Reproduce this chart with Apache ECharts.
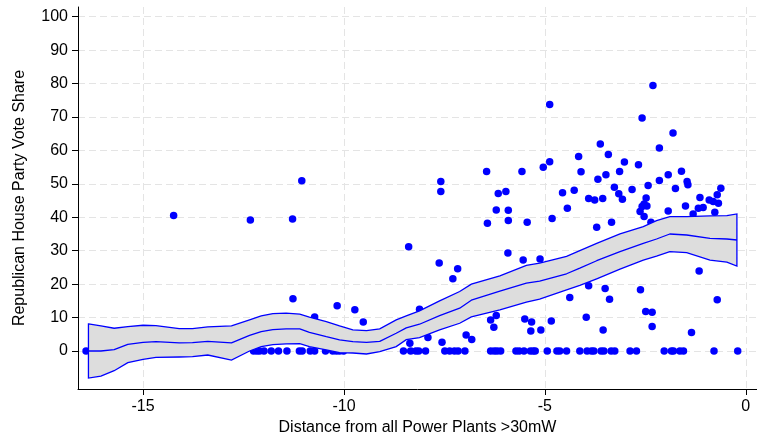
<!DOCTYPE html>
<html><head><meta charset="utf-8">
<script src="https://cdn.jsdelivr.net/npm/echarts@6/dist/echarts.min.js"></script>
<style>html,body{margin:0;padding:0;background:#fff}#c{width:757px;height:444px}</style>
</head><body><div id="c"></div>
<script>
// Points with zero vote share (y = 0)
const zeroX = [-16.42,
  -12.25,-12.17,-12.10,-11.99,-11.81,-11.63,-11.42,-11.11,-11.04,-10.84,-10.73,-10.46,-10.28,-10.19,-10.11,-10.01,
  -8.52,-8.34,-8.21,-8.14,-7.97,-7.49,-7.37,-7.25,-7.16,-6.99,-6.35,-6.26,-6.19,-6.10,
  -5.72,-5.64,-5.52,-5.36,-5.29,-5.24,-4.94,-4.70,-4.63,-4.46,
  -4.13,-3.95,-3.84,-3.78,-3.60,-3.53,-3.35,-3.26,-2.88,-2.72,-2.03,-1.85,-1.80,-1.64,-1.55,-0.79,-0.20];
// Points with positive vote share
const shareX = [-14.24,-12.33,-11.28,-11.05,-11.27,-10.73,-10.17,-9.73,-9.52,
  -8.39,-8.36,-8.12,-7.91,-7.59,-7.59,-7.63,-7.56,-7.29,-7.17,-6.96,-6.82,
  -6.45,-6.43,-6.35,-6.27,-6.21,-6.21,-6.16,-5.97,-5.91,-5.91,-5.92,
  -5.57,-5.54,-5.50,-5.44,-5.33,-5.35,-5.12,-5.10,-5.04,-4.88,-4.88,-4.84,-4.82,
  -4.56,-4.44,-4.38,-4.27,-4.16,-4.10,-3.97,-3.91,-3.91,-3.76,-3.71,-3.68,-3.62,-3.56,-3.55,-3.50,-3.48,-3.42,-3.39,-3.34,-3.27,-3.16,-3.14,-3.07,-3.02,
  -2.83,-2.67,-2.63,-2.62,-2.58,-2.58,-2.53,-2.53,-2.49,-2.48,-2.46,-2.43,-2.36,-2.33,-2.33,-2.31,-2.15,-2.15,
  -1.93,-1.93,-1.81,-1.75,-1.60,-1.50,-1.46,-1.44,-1.35,-1.31,-1.16,-1.14,-1.18,-1.06,-0.91,-0.81,-0.77,-0.71,-0.71,-0.68,-0.62];
const shareY = [40.5,39.2,39.5,50.9,15.6,10.2,13.5,12.3,8.7,
  31.2,2.3,12.5,4.0,50.7,47.7,26.3,2.6,21.6,24.6,4.8,3.4,
  53.7,38.2,9.3,7.1,10.6,42.2,47.1,47.7,42.1,39.0,29.3,
  53.7,27.2,9.6,38.5,8.7,6.0,27.5,6.3,55.0,73.7,56.6,9.0,39.6,
  47.3,42.7,16.0,48.1,58.2,53.6,10.1,19.5,45.6,45.2,37.0,51.4,61.9,45.6,6.3,18.7,52.7,58.8,15.5,38.5,49.0,47.0,53.7,45.4,56.5,
  48.3,55.7,41.7,18.3,69.7,43.2,44.0,40.2,11.8,45.8,43.4,49.5,38.5,11.6,7.3,79.4,60.7,51.0,
  52.7,41.9,65.2,48.6,53.8,43.4,50.7,49.7,5.5,41.0,23.9,45.9,42.7,42.9,45.2,44.7,41.5,46.7,15.3,44.2,48.7];
// Local polynomial fit with confidence band
const bandX = [-16.36,-16.05,-15.72,-15.38,-15.0,-14.68,-14.1,-13.77,-13.39,-12.8,-12.35,-12.06,-11.77,-11.44,-11.1,-10.86,-10.44,-10.11,-9.78,-9.44,-9.11,-8.7,-8.45,-8.12,-7.62,-7.12,-6.83,-6.12,-5.46,-5.13,-4.46,-4.13,-3.71,-3.13,-2.55,-2.22,-1.89,-1.47,-0.89,-0.47,-0.22];
const bandUpper = [8.1,7.5,6.8,7.3,7.7,7.6,6.7,6.7,7.2,7.5,9.3,10.5,11.2,11.3,11.0,10.1,8.8,7.5,6.3,6.1,6.6,9.3,10.5,12.0,15.0,17.8,20.0,22.5,25.6,26.3,28.3,30.0,32.2,35.0,37.2,39.0,40.2,40.2,40.4,40.5,41.0];
const bandCenter = [0,0,0.4,2.0,2.6,2.8,2.4,2.5,2.9,2.4,4.7,5.8,6.4,6.6,6.6,5.6,4.3,3.3,2.8,2.6,2.9,5.3,6.9,8.0,10.6,12.8,15.2,17.9,20.3,20.9,23.1,24.8,27.0,29.7,32.2,33.5,35.0,34.7,33.7,33.5,33.2];
const bandLower = [-8.1,-7.5,-5.9,-3.5,-2.5,-1.9,-1.8,-1.7,-1.2,-2.7,0.0,1.3,1.9,2.1,2.2,1.3,0.3,-0.5,-0.6,-0.9,-0.2,1.3,3.4,4.0,6.3,8.3,10.2,12.3,14.6,15.5,18.3,19.6,21.6,24.5,27.2,28.4,29.7,29.4,27.2,26.6,25.4];
const xTicks = [-15,-10,-5,0];
const yTicks = [0,10,20,30,40,50,60,70,80,90,100];

const BLUE = '#0000ff';
const FONT = 'Liberation Sans, Arial, Helvetica, sans-serif';
const chart = echarts.init(document.getElementById('c'), null, {renderer:'canvas'});
const scatterData = zeroX.map(x => [x, 0]).concat(shareX.map((x, i) => [x, shareY[i]]));
const gridLine = {show:true, lineStyle:{color:'#e4e4e4', width:1, type:[7,4]}};
chart.setOption({
  animation:false,
  backgroundColor:'#fff',
  grid:{left:78, right:0, top:7, bottom:55},
  xAxis:{
    type:'value', min:-16.62, max:0.28,
    name:'Distance from all Power Plants >30mW', nameLocation:'middle', nameGap:30,
    nameTextStyle:{fontSize:16, color:'#000', fontFamily:FONT},
    axisLine:{show:true, onZero:false, lineStyle:{color:'#000', width:1}},
    axisTick:{show:true, length:6, customValues:xTicks, lineStyle:{color:'#000'}},
    axisLabel:{customValues:xTicks, fontSize:16, color:'#000', margin:10, fontFamily:FONT},
    splitLine:gridLine
  },
  yAxis:{
    type:'value', min:-11.37, max:102.9,
    name:'Republican House Party Vote Share', nameLocation:'middle', nameGap:50,
    nameTextStyle:{fontSize:16, color:'#000', fontFamily:FONT},
    axisLine:{show:true, onZero:false, lineStyle:{color:'#000', width:1}},
    axisTick:{show:true, length:6, customValues:yTicks, lineStyle:{color:'#000'}},
    axisLabel:{customValues:yTicks, fontSize:16, color:'#000', margin:10, fontFamily:FONT},
    splitLine:gridLine
  },
  series:[
    {type:'scatter', data:scatterData, symbolSize:7.5, itemStyle:{color:BLUE, opacity:1}, z:2},
    {type:'custom', z:3, data:[[bandX[0], bandUpper[0]]],
     renderItem:function(params, api){
       const pts = [];
       for (let i = 0; i < bandX.length; i++) pts.push(api.coord([bandX[i], bandUpper[i]]));
       for (let i = bandX.length - 1; i >= 0; i--) pts.push(api.coord([bandX[i], bandLower[i]]));
       return {type:'polygon', shape:{points:pts}, style:{fill:'#dddddd', stroke:BLUE, lineWidth:1.3}};
     }},
    {type:'line', data:bandX.map((x, i) => [x, bandCenter[i]]), showSymbol:false, symbol:'none',
     lineStyle:{color:BLUE, width:1.3}, z:4}
  ]
});
</script></body></html>
